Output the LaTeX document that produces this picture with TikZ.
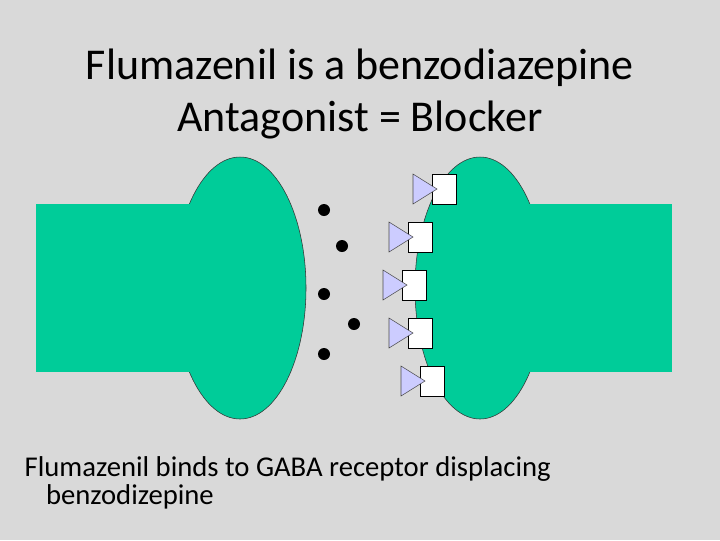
\documentclass[tikz,border=0pt]{standalone}
\usepackage{fontspec}
\setmainfont{Carlito}
\usetikzlibrary{positioning}
\definecolor{tissue}{RGB}{0,204,153}
\definecolor{bgray}{RGB}{217,217,217}
\definecolor{flum}{RGB}{204,204,255}
\tikzset{
  site/.style={draw=black, fill=white},
  blocker/.style={draw=black!70, fill=flum},
  drug/.style={fill=black}
}
\begin{document}
\begin{tikzpicture}[x=0.75pt,y=-0.75pt]
\fill [bgray] (0,0) rectangle (720,540);
\useasboundingbox (0,0) rectangle (720,540);

% cells
\draw [fill=tissue, draw=black!80] (240,288) ellipse [x radius=66, y radius=131];
\draw [fill=tissue, draw=black!80] (480,288) ellipse [x radius=65, y radius=131];
\fill [tissue] (36,204) rectangle (240,372);
\fill [tissue] (480,204) rectangle (672,372);

% receptor sites with flumazenil
\foreach \x/\y in {432/174, 408/222, 402/270, 408/318, 420/366} {
  \draw [site] (\x,\y) rectangle ++(24,30);
  \draw [blocker] (\x-19,\y) -- (\x+5,\y+15) -- (\x-19,\y+30) -- cycle;
}

% displaced benzodiazepine
\foreach \x/\y in {324/210, 342/246, 324/294, 354/324, 324/354}
  \fill [drug] (\x,\y) circle (6);

\node (title) [align=center, font=\fontsize{33}{39}\selectfont] at (360,94)
  {Flumazenil is a benzodiazepine\\Antagonist = Blocker};
\node (caption) [anchor=north west, align=left, font=\fontsize{21.5}{21}\selectfont] at (20,452)
  {Flumazenil binds to GABA receptor displacing\\\hspace*{16pt}benzodizepine};
\end{tikzpicture}
\end{document}
